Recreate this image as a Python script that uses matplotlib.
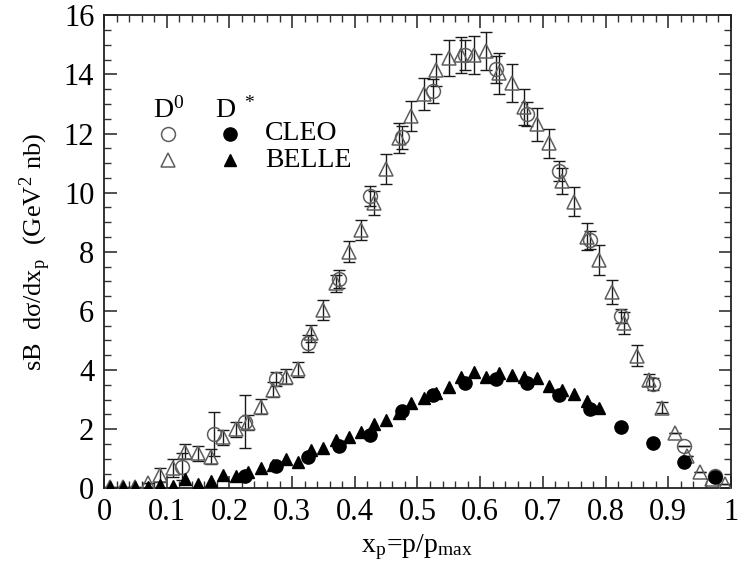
import numpy as np
import matplotlib
matplotlib.use("Agg")
import matplotlib.pyplot as plt
from matplotlib.ticker import MultipleLocator

plt.rcParams['font.family'] = ['Liberation Serif', 'DejaVu Serif']
plt.rcParams['mathtext.fontset'] = 'stix'

# ---- data ----
belle_d0_x = [0.01, 0.03, 0.05, 0.07, 0.09, 0.11, 0.13, 0.15, 0.17, 0.19,
              0.21, 0.23, 0.25, 0.27, 0.29, 0.31, 0.33, 0.35, 0.37, 0.39,
              0.41, 0.43, 0.45, 0.47, 0.49, 0.51, 0.53, 0.55, 0.57, 0.59,
              0.61, 0.63, 0.65, 0.67, 0.69, 0.71, 0.73, 0.75, 0.77, 0.79,
              0.81, 0.83, 0.85, 0.87, 0.89, 0.91, 0.93, 0.95, 0.97, 0.99]
belle_d0_y = [0.05, 0.05, 0.05, 0.19, 0.45, 0.68, 1.24, 1.18, 1.07, 1.72,
              2.0, 2.22, 2.76, 3.33, 3.78, 4.03, 5.24, 6.03, 6.93, 8.0,
              8.74, 9.65, 10.8, 11.84, 12.6, 13.34, 14.15, 14.55, 14.66, 14.66,
              14.8, 14.04, 13.7, 12.89, 12.31, 11.67, 10.4, 9.7, 8.51, 7.72,
              6.65, 5.58, 4.48, 3.66, 2.73, 1.86, 1.09, 0.56, 0.3, 0.15]
belle_d0_err = [0.0, 0.0, 0.0, 0.0, 0.25, 0.3, 0.25, 0.25, 0.25, 0.25,
                0.25, 0.25, 0.25, 0.25, 0.25, 0.25, 0.3, 0.35, 0.3, 0.35,
                0.35, 0.4, 0.5, 0.5, 0.5, 0.55, 0.55, 0.6, 0.6, 0.65,
                0.65, 0.7, 0.65, 0.6, 0.55, 0.5, 0.45, 0.5, 0.45, 0.5,
                0.4, 0.37, 0.35, 0.2, 0.2, 0.0, 0.0, 0.0, 0.0, 0.0]

cleo_d0_x = [0.125, 0.175, 0.225, 0.275, 0.325, 0.375, 0.425, 0.475, 0.525,
             0.575, 0.625, 0.675, 0.725, 0.775, 0.825, 0.875, 0.925, 0.975]
cleo_d0_y = [0.73, 1.84, 2.25, 3.7, 4.9, 7.07, 9.89, 11.87, 13.44,
             14.66, 14.17, 12.65, 10.73, 8.4, 5.83, 3.52, 1.43, 0.4]
cleo_d0_err = [0.45, 0.75, 0.9, 0.25, 0.3, 0.3, 0.35, 0.4, 0.4,
               0.5, 0.45, 0.4, 0.35, 0.3, 0.25, 0.2, 0.0, 0.0]

belle_ds_x = [0.01, 0.03, 0.05, 0.07, 0.09, 0.11, 0.13, 0.15, 0.17, 0.19,
              0.21, 0.23, 0.25, 0.27, 0.29, 0.31, 0.33, 0.35, 0.37, 0.39,
              0.41, 0.43, 0.45, 0.47, 0.49, 0.51, 0.53, 0.55, 0.57, 0.59,
              0.61, 0.63, 0.65, 0.67, 0.69, 0.71, 0.73, 0.75, 0.77, 0.79]
belle_ds_y = [0.05, 0.05, 0.05, 0.05, 0.12, 0.08, 0.3, 0.15, 0.25, 0.45,
              0.4, 0.55, 0.7, 0.8, 1.0, 0.88, 1.3, 1.35, 1.63, 1.75,
              1.92, 2.18, 2.31, 2.56, 2.87, 3.04, 3.23, 3.44, 3.75, 3.92,
              3.78, 3.89, 3.83, 3.78, 3.72, 3.46, 3.33, 3.19, 2.96, 2.71]

cleo_ds_x = [0.225, 0.275, 0.325, 0.375, 0.425, 0.475, 0.525, 0.575,
             0.625, 0.675, 0.725, 0.775, 0.825, 0.875, 0.925, 0.975]
cleo_ds_y = [0.43, 0.75, 1.05, 1.43, 1.80, 2.63, 3.16, 3.55,
             3.69, 3.57, 3.16, 2.67, 2.06, 1.52, 0.9, 0.37]

# ---- figure ----
fig = plt.figure(figsize=(7.38, 5.66), dpi=100)
ax = fig.add_axes([0.1409, 0.1373, 0.8496, 0.8357])

gray = '#5e5e5e'
ebc = '#1a1a1a'

ax.errorbar(belle_d0_x, belle_d0_y, yerr=belle_d0_err, fmt='none',
            ecolor=ebc, elinewidth=1.0, capsize=4.3, capthick=1.0, zorder=2)
ax.errorbar(cleo_d0_x, cleo_d0_y, yerr=cleo_d0_err, fmt='none',
            ecolor=ebc, elinewidth=1.0, capsize=4.3, capthick=1.0, zorder=2)
ax.plot(belle_d0_x, belle_d0_y, linestyle='none', marker='^', markersize=10.5,
        markerfacecolor='none', markeredgecolor=gray, markeredgewidth=1.1, zorder=3)
ax.plot(cleo_d0_x, cleo_d0_y, linestyle='none', marker='o', markersize=10,
        markerfacecolor='none', markeredgecolor=gray, markeredgewidth=1.1, zorder=3)
ax.plot(belle_ds_x, belle_ds_y, linestyle='none', marker='^', markersize=8.5,
        color='black', zorder=4)
ax.plot(cleo_ds_x, cleo_ds_y, linestyle='none', marker='o', markersize=9.5,
        color='black', zorder=4)

ax.set_xlim(0, 1)
ax.set_ylim(0, 16)
ax.xaxis.set_major_locator(MultipleLocator(0.1))
ax.xaxis.set_minor_locator(MultipleLocator(0.02))
ax.yaxis.set_major_locator(MultipleLocator(2))
ax.yaxis.set_minor_locator(MultipleLocator(0.5))
ax.set_xticks(np.arange(0, 1.01, 0.1))
ax.set_xticklabels(['0', '0.1', '0.2', '0.3', '0.4', '0.5', '0.6', '0.7', '0.8', '0.9', '1'])
ax.tick_params(which='both', direction='in', top=True, right=True, color='#333333')
ax.tick_params(which='major', length=9, width=1.2, labelsize=22, pad=7)
ax.tick_params(which='minor', length=5, width=1.0)
for s in ax.spines.values():
    s.set_linewidth(1.3)
    s.set_color('#222222')

ax.set_xlabel(r'x$_\mathregular{p}$=p/p$_\mathregular{max}$', fontsize=20, labelpad=4)
ax.set_ylabel('sB  d\u03c3/dx$_\\mathregular{p}$  (GeV$^\\mathregular{2}$ nb)', fontsize=19, labelpad=8)

# legend drawn as text + markers
tr = ax.transAxes
ax.text(0.078, 0.783, r'D$^\mathregular{0}$', transform=tr, fontsize=20, ha='left', va='baseline')
ax.text(0.177, 0.783, r'D$^{\ \ \mathregular{*}}$', transform=tr, fontsize=20, ha='left', va='baseline')
ax.plot([0.1016], [0.750], transform=tr, marker='o', markersize=10, markerfacecolor='none',
        markeredgecolor=gray, markeredgewidth=1.1, linestyle='none')
ax.plot([0.201], [0.750], transform=tr, marker='o', markersize=9.5, color='black', linestyle='none')
ax.plot([0.1016], [0.694], transform=tr, marker='^', markersize=10.5, markerfacecolor='none',
        markeredgecolor=gray, markeredgewidth=1.1, linestyle='none')
ax.plot([0.201], [0.694], transform=tr, marker='^', markersize=8.5, color='black', linestyle='none')
ax.text(0.257, 0.750, 'CLEO', transform=tr, fontsize=20, ha='left', va='center')
ax.text(0.257, 0.694, 'BELLE', transform=tr, fontsize=20, ha='left', va='center')

fig.savefig('out.png', dpi=100)
